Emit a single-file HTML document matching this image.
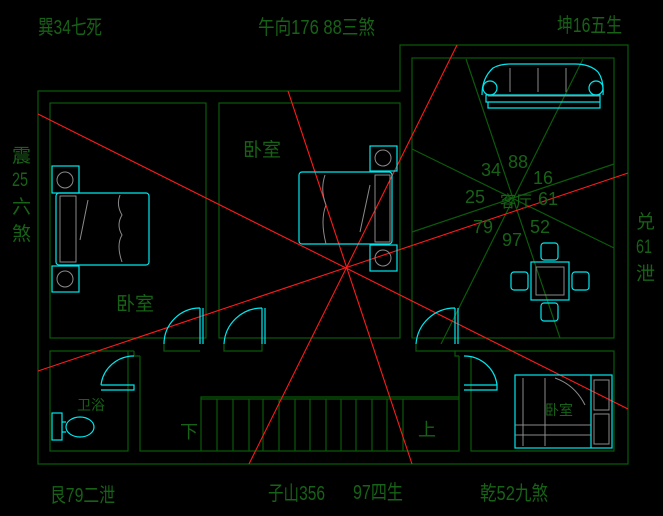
<!DOCTYPE html>
<html><head><meta charset="utf-8"><style>
html,body{margin:0;padding:0;background:#000;}
svg{display:block}
text{font-family:"Liberation Sans","Noto Sans CJK SC",sans-serif;fill:#176217;}
</style></head><body>
<svg width="663" height="516" viewBox="0 0 663 516" xmlns="http://www.w3.org/2000/svg">
<rect width="663" height="516" fill="#000"/>
<g fill="none" stroke="#0b5a0b" stroke-width="1.2">
<path d="M38 91H400V45H628V464H38Z"/>
<rect x="50" y="103" width="156" height="235"/>
<rect x="219" y="103" width="181" height="235"/>
<rect x="412" y="58" width="202" height="280"/>
<path d="M128 351H50V451H128V351"/>
<path d="M128 351H134M140 356V451H459V356"/>
<path d="M140 356H134V351M459 356H455V351H471M471 351H614V451H471V356"/>
<path d="M201 451V397H459M201 399H459"/>
<path d="M217 399V451M233 399V451M249 399V451M263 399V451M279 399V451M295 399V451M310 399V451M326 399V451M341 399V451M356 399V451M372 399V451M387 399V451M403 399V451"/>
<path d="M164 344V351H200M224 344V351H262V344M416 344V351H455"/>
<path d="M466 59L560 338M583 59L441 344M412 149L614 248M412 232L614 164"/>
</g>
<g stroke="#ff1a1a" stroke-width="1.1">
<line x1="38" y1="114" x2="628" y2="409"/>
<line x1="38" y1="371" x2="628" y2="173"/>
<line x1="288" y1="91" x2="412" y2="464"/>
<line x1="457" y1="45" x2="249" y2="464"/>
</g>
<g fill="none" stroke="#00e8ee" stroke-width="1.2">
<rect x="52" y="166" width="27" height="27"/><rect x="52" y="266" width="27" height="26"/>
<rect x="56" y="193" width="93" height="72" rx="3"/>
<rect x="370" y="146" width="27" height="25"/><rect x="370" y="245" width="27" height="26"/>
<rect x="299" y="172" width="93" height="72" rx="3"/>
<path d="M482 95Q482 78 493 68Q500 64 510 64H575Q590 64 598 72Q604 80 603 95M486 95H600V102H486ZM488 102H600V108H488Z"/>
<circle cx="490" cy="88" r="7"/><circle cx="596" cy="88" r="7"/>
<rect x="531" y="262" width="38" height="38"/>
<rect x="511" y="272" width="17" height="18" rx="3"/><rect x="572" y="272" width="17" height="18" rx="3"/>
<rect x="541" y="243" width="17" height="17" rx="3"/><rect x="541" y="303" width="17" height="18" rx="3"/>
<rect x="515" y="375" width="97" height="73"/><line x1="591" y1="375" x2="591" y2="448"/>
<rect x="52" y="413" width="10" height="27"/><ellipse cx="80" cy="427" rx="14" ry="10"/><path d="M62 422H66M62 432H66"/>
<path d="M200 308V344M203 308V344M200 308A36 36 0 0 0 164 344"/>
<path d="M262 308V344M265 308V344M262 308A38 38 0 0 0 224 344"/>
<path d="M455 308V344M458 308V344M455 308A39 39 0 0 0 416 344"/>
<path d="M101 385H134V390H101M101 385A33 33 0 0 1 134 356"/>
<path d="M464 385H497V390H464M497 385A33 33 0 0 0 464 356"/>
</g>
<g fill="none" stroke="#8a8a8a" stroke-width="1">
<circle cx="65" cy="180" r="8"/><circle cx="65" cy="279" r="8"/><circle cx="383" cy="158" r="8"/><circle cx="383" cy="258" r="8"/>
<path d="M60 196H76V262H60Z M88 200L80 240M120 195Q116 205 122 215Q116 225 122 235Q116 245 122 262"/>
<path d="M375 175H390V242H375Z M370 185L360 232M325 175Q320 190 326 205Q320 220 326 244"/>
<path d="M510 68V92M538 68V92M566 68V92M488 96H600"/>
<rect x="536" y="267" width="28" height="28"/>
<path d="M523 378V446M545 378V446M515 425H591M515 435H591M555 378Q575 385 585 405"/>
<rect x="594" y="380" width="15" height="30"/><rect x="594" y="414" width="15" height="30"/>
</g>
<text x="38" y="34" font-size="20" textLength="64" lengthAdjust="spacingAndGlyphs">巽34七死</text>
<text x="258" y="34" font-size="20" textLength="117" lengthAdjust="spacingAndGlyphs">午向176  88三煞</text>
<text x="557" y="32" font-size="20" textLength="65" lengthAdjust="spacingAndGlyphs">坤16五生</text>
<text x="12" y="162" font-size="19">震</text>
<text x="12" y="186" font-size="19" textLength="16" lengthAdjust="spacingAndGlyphs">25</text>
<text x="12" y="213" font-size="19">六</text>
<text x="12" y="240" font-size="19">煞</text>
<text x="636" y="228" font-size="19">兑</text>
<text x="636" y="253" font-size="19" textLength="16" lengthAdjust="spacingAndGlyphs">61</text>
<text x="636" y="280" font-size="19">泄</text>
<text x="50" y="502" font-size="20" textLength="65" lengthAdjust="spacingAndGlyphs">艮79二泄</text>
<text x="268" y="500" font-size="20" textLength="57" lengthAdjust="spacingAndGlyphs">子山356</text>
<text x="353" y="499" font-size="20" textLength="50" lengthAdjust="spacingAndGlyphs">97四生</text>
<text x="480" y="500" font-size="20" textLength="68" lengthAdjust="spacingAndGlyphs">乾52九煞</text>
<text x="243" y="156" font-size="19">卧室</text>
<text x="116" y="310" font-size="19">卧室</text>
<text x="545" y="415" font-size="14">卧室</text>
<text x="77" y="410" font-size="14">卫浴</text>
<text x="180" y="438" font-size="18">下</text>
<text x="418" y="436" font-size="18">上</text>
<g font-size="18">
<text x="481" y="176">34</text><text x="508" y="168">88</text><text x="533" y="184">16</text>
<text x="465" y="203">25</text><text x="538" y="205">61</text><text x="500" y="207" font-size="16">客厅</text>
<text x="473" y="233">79</text><text x="502" y="246">97</text><text x="530" y="233">52</text>
</g>
</svg>
</body></html>
